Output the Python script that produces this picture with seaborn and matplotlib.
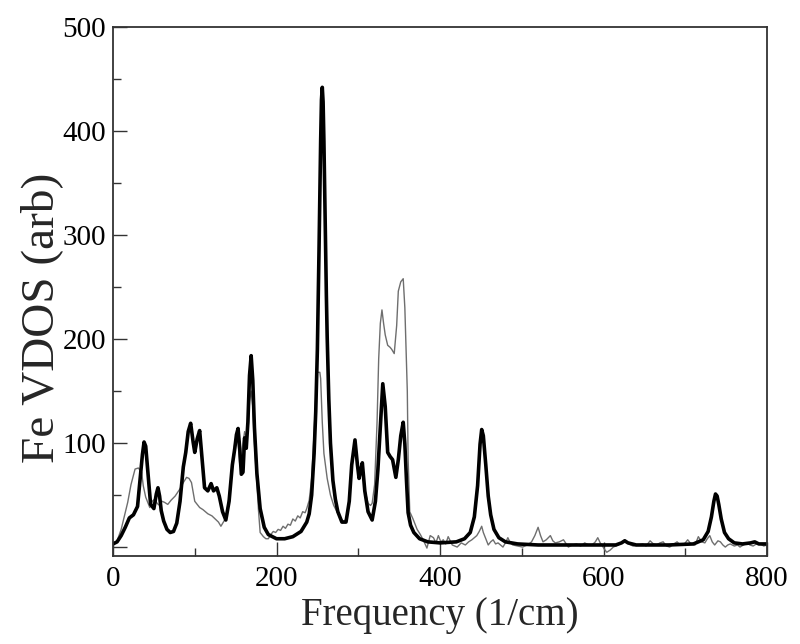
import matplotlib
matplotlib.use("Agg")
import matplotlib.pyplot as plt
from matplotlib.ticker import MultipleLocator, FixedLocator
import seaborn as sns
import pandas as pd

# calculated Fe VDOS (thick black curve)
calc_freq = [0, 5, 10, 15, 20, 25, 30, 33, 36, 38, 40, 43, 46, 50, 53, 55, 57, 59, 62, 66,
             70, 74, 78, 82, 86, 89, 92, 95, 98, 100, 103, 106, 109, 112, 116, 120, 123, 127,
             130, 134, 138, 142, 146, 149, 151, 153, 155, 157, 159, 161, 163, 165, 167, 169,
             171, 173, 176, 180, 185, 190, 200, 210, 220, 230, 237, 240, 243, 246, 248, 250,
             251, 252, 253, 254, 255, 256, 257, 258, 259, 260, 261, 262, 264, 266, 269, 272,
             275, 280, 285, 289, 292, 296, 299, 301, 303, 305, 308, 312, 317, 321, 324, 327,
             330, 333, 336, 339, 342, 346, 349, 352, 355, 357, 359, 361, 364, 368, 375, 385,
             400, 420, 430, 437, 442, 446, 449, 451, 453, 456, 459, 462, 466, 472, 480, 495,
             520, 560, 600, 615, 622, 626, 630, 640, 680, 710, 722, 728, 732, 735, 737, 739,
             741, 744, 748, 753, 760, 770, 780, 785, 790, 800]
calc_vdos = [3, 5, 11, 19, 28, 31, 39, 64, 89, 101, 97, 69, 41, 37, 51, 57, 49, 35, 25, 17,
             14, 15, 23, 44, 77, 91, 111, 119, 101, 91, 104, 112, 84, 57, 54, 61, 54, 57,
             49, 34, 26, 44, 79, 95, 108, 114, 95, 70, 72, 105, 95, 120, 165, 184,
             160, 115, 71, 37, 19, 12, 8, 8, 10, 15, 24, 32, 50, 90, 130, 190,
             235, 285, 340, 390, 430, 442, 428, 390, 341, 289, 242, 202, 142, 100, 64, 46,
             34, 24, 24, 44, 79, 103, 79, 66, 74, 81, 54, 34, 26, 44, 74, 116,
             157, 135, 91, 87, 84, 67, 84, 107, 120, 99, 64, 33, 21, 14, 8, 5,
             4, 5, 8, 14, 29, 59, 99, 113, 107, 79, 49, 31, 17, 9, 5, 3,
             2, 2, 2, 2, 4, 6, 4, 2, 2, 3, 7, 15, 29, 44, 51, 49,
             41, 27, 14, 8, 4, 3, 4, 5, 3, 3]

# experimental Fe VDOS (thin grey curve)
expt_freq = [0, 5, 10, 14, 18, 22, 27, 31, 35, 37, 40, 45, 48, 51, 54, 57, 60, 63, 67, 71,
             76, 82, 86, 90, 93, 96, 100, 106, 110, 116, 121, 125, 129, 132, 135, 138, 142,
             146, 149, 151, 153, 155, 157, 159, 161, 163, 165, 167, 169, 171, 173, 176, 178,
             180, 182, 184, 187, 190, 193, 196, 199, 202, 205, 208, 211, 214, 217, 220, 223,
             226, 229, 232, 235, 237, 240, 243, 246, 249, 250, 253, 254, 256, 258, 262, 266,
             270, 274, 278, 281, 285, 289, 292, 296, 299, 301, 303, 305, 308, 312, 315, 317,
             320, 323, 325, 327, 329, 331, 333, 336, 339, 341, 344, 347, 349, 352, 355, 357,
             360, 361, 363, 367, 372, 376, 380, 384, 388, 392, 395, 398, 401, 404, 407, 410,
             415, 421, 426, 431, 435, 439, 445, 448, 451, 453, 455, 459, 462, 465, 468, 471,
             477, 480, 483, 486, 489, 495, 501, 507, 512, 516, 520, 523, 526, 530, 535, 538,
             541, 546, 551, 557, 562, 567, 572, 577, 582, 586, 590, 593, 596, 598, 601, 604,
             608, 612, 618, 622, 626, 631, 636, 642, 648, 652, 657, 661, 665, 669, 673, 677,
             681, 686, 690, 694, 697, 700, 703, 707, 712, 716, 720, 724, 727, 730, 733, 736,
             740, 743, 746, 749, 752, 755, 760, 764, 767, 771, 776, 779, 783, 787, 792, 796, 800]
expt_vdos = [3, 6, 17, 30, 43, 60, 75, 76, 72, 59, 48, 38, 44, 46, 42, 40, 44, 43, 41, 45,
             49, 56, 62, 67, 66, 62, 44, 38, 36, 32, 30, 27, 24, 20, 24, 28, 48,
             80, 100, 108, 100, 80, 85, 100, 111, 105, 110, 140, 150, 135, 100, 62, 35,
             14, 12, 10, 8, 8, 12, 15, 14, 17, 16, 20, 18, 22, 21, 27, 25,
             30, 28, 34, 33, 37, 45, 66, 110, 160, 168, 168, 162, 120, 90, 66, 50,
             40, 34, 28, 25, 26, 42, 75, 100, 78, 66, 72, 78, 55, 42, 40, 42,
             60, 120, 181, 215, 228, 215, 204, 194, 192, 190, 186, 213, 246, 255, 258, 230,
             150, 85, 34, 27, 17, 12, 6, -1, 11, 9, 4, 11, 5, 7, 3, 10,
             2, 0, 4, 2, 5, 7, 11, 15, 20, 14, 10, 2, 5, 7, 3, 4,
             0, 4, 9, 4, 2, 1, 0, 2, 5, 11, 19, 11, 5, 7, 11, 6,
             4, 5, 7, 0, 2, 3, 1, 4, 2, 2, 5, 9, 4, 2, -2, -5,
             -3, 0, 2, 4, 7, 3, 1, 2, 3, 1, 6, 3, 2, 4, 5, 1,
             0, 3, 5, 2, 2, 4, 7, 3, 2, 10, 5, 4, 8, 11, 5, 2,
             6, 5, 2, 0, 2, 3, 1, 2, 0, 2, 4, 2, 1, 3, 3, 1, 2]

x_ticks = [0, 200, 400, 600, 800]
y_ticks = [0, 100, 200, 300, 400, 500]
y_tick_labels = ["", "100", "200", "300", "400", "500"]

calc_df = pd.DataFrame({"freq": calc_freq, "vdos": calc_vdos})
expt_df = pd.DataFrame({"freq": expt_freq, "vdos": expt_vdos})

sns.set_theme(style="ticks")
plt.rcParams["font.family"] = ["Liberation Serif", "DejaVu Serif"]

fig = plt.figure(figsize=(8, 6.44), dpi=100)
ax = fig.add_axes([113 / 800, 88 / 644, 654 / 800, 529 / 644])

# experiment first, calculation drawn on top
sns.lineplot(data=expt_df, x="freq", y="vdos", sort=False, color="#6e6e6e",
             linewidth=1.0, ax=ax)
sns.lineplot(data=calc_df, x="freq", y="vdos", sort=False, color="black",
             linewidth=2.6, ax=ax)

ax.set_xlim(0, 800)
ax.set_ylim(-8.6, 500)
ax.xaxis.set_major_locator(FixedLocator(x_ticks))
ax.xaxis.set_minor_locator(MultipleLocator(100))
ax.yaxis.set_major_locator(FixedLocator(y_ticks))
ax.yaxis.set_minor_locator(MultipleLocator(50))
ax.set_yticklabels(y_tick_labels)

ax.tick_params(which="both", direction="in", top=False, right=False, colors="#333333",
               labelcolor="black", labelsize=21)
ax.tick_params(which="major", length=10, width=1.0)
ax.tick_params(which="minor", length=6, width=1.0)
ax.tick_params(axis="x", pad=7)
ax.tick_params(axis="y", pad=5)

for s in ax.spines.values():
    s.set_linewidth(1.3)
    s.set_color("#333333")

ax.set_xlabel("Frequency (1/cm)", fontsize=28, labelpad=4)
ax.set_ylabel("Fe VDOS (arb)", fontsize=34)
ax.yaxis.set_label_coords(-0.077, 0.45)

fig.savefig("out.png", dpi=100)
